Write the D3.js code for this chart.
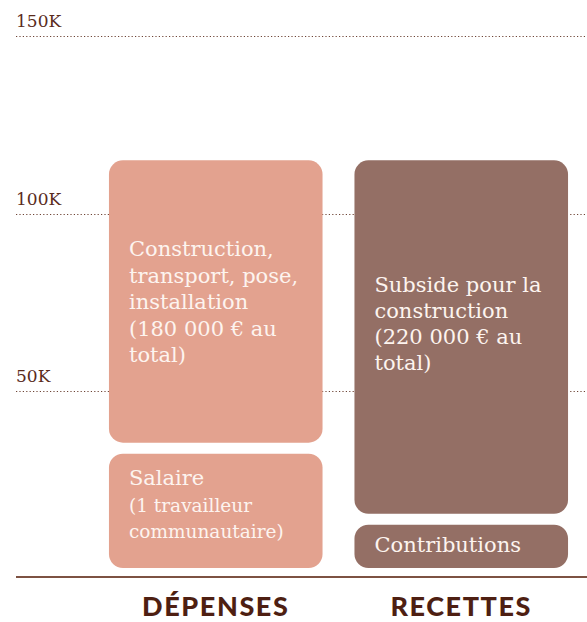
<!DOCTYPE html>
<html>
<head>
<meta charset="utf-8">
<script src="https://cdn.jsdelivr.net/npm/d3@7/dist/d3.min.js"></script>
<style>
  html, body { margin: 0; padding: 0; background: #ffffff; }
  svg { display: block; }
</style>
</head>
<body>
<div id="chart"></div>
<script>
// Budget: expenses vs. income, in thousands of euros
const categories = ["DÉPENSES", "RECETTES"];
const depenses = [
  { name: "Salaire", value: 34, lines: ["Salaire", "(1 travailleur", "communautaire)"] },
  { name: "Construction", value: 81, lines: ["Construction,", "transport, pose,", "installation", "(180 000 € au", "total)"] }
];
const recettes = [
  { name: "Contributions", value: 14, lines: ["Contributions"] },
  { name: "Subside", value: 101, lines: ["Subside pour la", "construction", "(220 000 € au", "total)"] }
];
const yTicks = [50, 100, 150];
const tickLabels = ["50K", "100K", "150K"];

const W = 587, H = 622;
const colors = { "DÉPENSES": "#e3a28f", "RECETTES": "#946f65" };
const ink = "#5a2b1c";
const serif = "'DejaVu Serif', serif";

const svg = d3.select("#chart").append("svg").attr("width", W).attr("height", H);

const y = d3.scaleLinear().domain([0, 150]).range([569, 36]);
const x = d3.scaleBand().domain(categories).range([93, 584]).paddingInner(0.13).paddingOuter(0.065);

// Gridlines and tick labels
const grid = svg.append("g");
yTicks.forEach((t, i) => {
  grid.append("line")
    .attr("x1", 16).attr("x2", W)
    .attr("y1", Math.round(y(t)) + 0.5).attr("y2", Math.round(y(t)) + 0.5)
    .attr("stroke", "#6e4436").attr("stroke-width", 1.2)
    .attr("stroke-dasharray", "1.2,2.2");
  grid.append("text")
    .attr("x", 16).attr("y", y(t) - 9)
    .attr("fill", ink).attr("font-family", serif).attr("font-size", 17)
    .text(tickLabels[i]);
});

// Stack segments with a small gap between them
const gap = 11, radius = 14;
function stack(cat, segs) {
  let acc = 0;
  return segs.map((s, i) => {
    const y0 = acc, y1 = acc + s.value;
    acc = y1;
    const bottom = i === 0 ? y(y0) - 1 : y(y0) - gap / 2;
    const top = i === segs.length - 1 ? y(y1) : y(y1) + gap / 2;
    return { cat, ...s, top, bottom, idx: i };
  });
}
const segments = stack("DÉPENSES", depenses).concat(stack("RECETTES", recettes));

const seg = svg.append("g").selectAll("g").data(segments).join("g");
seg.append("rect")
  .attr("x", d => x(d.cat))
  .attr("y", d => d.top)
  .attr("width", x.bandwidth())
  .attr("height", d => d.bottom - d.top)
  .attr("rx", radius).attr("ry", radius)
  .attr("fill", d => colors[d.cat]);

// Segment labels
const labelLayout = {
  "Salaire": { dy: 485, sizes: [21, 18.5, 18.5], step: 26.5 },
  "Construction": { dy: 256, sizes: [21, 21, 21, 21, 21], step: 26.5 },
  "Contributions": { dy: 552, sizes: [21], step: 26 },
  "Subside": { dy: 292, sizes: [21, 21, 21, 21], step: 26 }
};
seg.each(function (d) {
  const L = labelLayout[d.name];
  const t = d3.select(this).append("text")
    .attr("fill", "#fdf4ef")
    .attr("font-family", serif);
  d.lines.forEach((ln, i) => {
    t.append("tspan")
      .attr("x", x(d.cat) + 20)
      .attr("y", L.dy + i * L.step)
      .attr("font-size", L.sizes[i])
      .text(ln);
  });
});

// Baseline
svg.append("line")
  .attr("x1", 16).attr("x2", W)
  .attr("y1", 577).attr("y2", 577)
  .attr("stroke", "#7d5243").attr("stroke-width", 2);

// Category labels
svg.append("g").selectAll("text").data(categories).join("text")
  .attr("x", d => x(d) + x.bandwidth() / 2)
  .attr("y", 616)
  .attr("text-anchor", "middle")
  .attr("fill", "#4e1f12")
  .attr("font-family", "Lato, sans-serif")
  .attr("font-weight", 900)
  .attr("font-size", 27)
  .attr("letter-spacing", 1.6)
  .text(d => d);
</script>
</body>
</html>
